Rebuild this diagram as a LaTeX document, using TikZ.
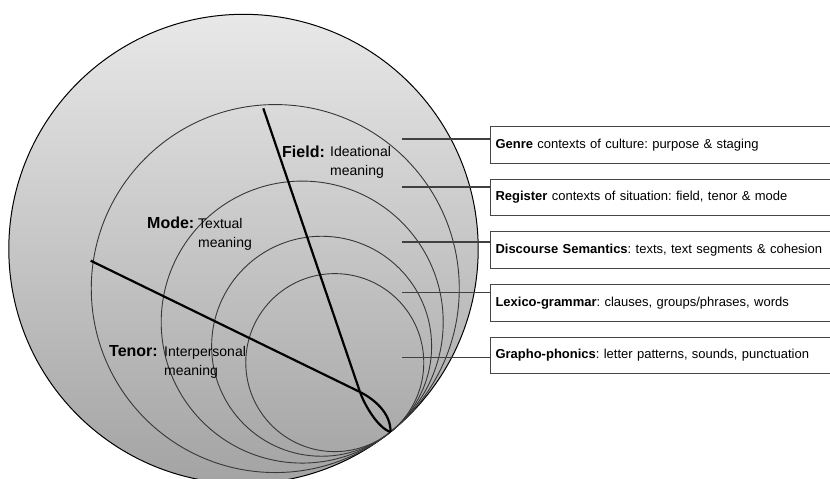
\documentclass[tikz,border=0pt]{standalone}
\usepackage{fontspec}
\setmainfont{Liberation Sans}
\frenchspacing
\usetikzlibrary{positioning,calc}
\definecolor{ringline}{RGB}{55,55,55}
\definecolor{boxline}{RGB}{70,70,70}
\tikzset{
  ring/.style={draw=ringline,line width=0.9pt},
  rolebar/.style={draw=black,line width=2.2pt},
  levelbox/.style={rectangle,draw=boxline,line width=1pt,fill=white,anchor=west,text width=360pt,inner xsep=5pt,minimum height=36.5pt,align=left,font=\fontsize{13}{15}\selectfont},
  leader/.style={draw=black!75,line width=1.1pt},
  rolelbl/.style={inner sep=0pt,anchor=base west,font=\fontsize{16}{19}\selectfont\bfseries},
  meantxt/.style={inner sep=0pt,anchor=north west,align=left,font=\fontsize{14}{19}\selectfont}
}

\begin{document}
\begin{tikzpicture}[x=1pt,y=-1pt]
  \useasboundingbox (0,0) rectangle (830,479);
  \clip (0,0) rectangle (830,479);

  % the strata: one big disc, smaller rings all touching it at T
  \coordinate (O) at (243.5,249);
  \coordinate (T) at (390.5,432);
  \shade[top color=gray!18,middle color=gray!35,bottom color=gray!72] (O) circle[radius=234.7pt];
  \draw[draw=black,line width=1pt] (O) circle[radius=234.7pt];
  \foreach \r in {184pt,141pt,110pt,89pt}
    \draw[ring] ($(T)!\r!(O)$) circle[radius=\r];

  % metafunction dividers
  \coordinate (fieldtop) at (263.3,108.3);
  \coordinate (tenorleft) at (90.7,260.7);
  \coordinate (cross) at (360,392);
  \draw[rolebar] (fieldtop) -- (cross) .. controls (364.5,405) and (378,428) .. (T);
  \draw[rolebar] (tenorleft) -- (cross) .. controls (374,399) and (391,413) .. (T);

  \node[rolelbl] (fieldlbl) at (282,157) {Field:};
  \node[meantxt] (fieldmean) at (330,146.5) {Ideational\\meaning};
  \node[rolelbl] (modelbl) at (147,228) {Mode:};
  \node[meantxt] (modemean) at (198,218) {Textual\\meaning};
  \node[rolelbl] (tenorlbl) at (109,356.5) {Tenor:};
  \node[meantxt] (tenormean) at (164,346.5) {Interpersonal\\meaning};

  % level boxes
  \node[levelbox] (genre) at (490,144.75) {\textbf{Genre} contexts of culture: purpose \& staging};
  \node[levelbox,below=15.2pt of genre] (register) {\textbf{Register} contexts of situation: field, tenor \& mode};
  \node[levelbox,below=15.2pt of register] (discourse) {\textbf{Discourse Semantics}: texts, text segments \& cohesion};
  \node[levelbox,below=15.2pt of discourse] (lexgram) {\textbf{Lexico-grammar}: clauses, groups/phrases, words};
  \node[levelbox,below=15.2pt of lexgram] (graph) {\textbf{Grapho-phonics}: letter patterns, sounds, punctuation};

  \coordinate (l1) at (402,139);
  \coordinate (l2) at (402,187);
  \coordinate (l3) at (402,242);
  \coordinate (l4) at (402,292.5);
  \coordinate (l5) at (402,357.5);
  \draw[leader] (l1) -- (l1 -| genre.west);
  \draw[leader] (l2) -- (l2 -| register.west);
  \draw[leader] (l3) -- (l3 -| discourse.west);
  \draw[leader] (l4) -- (l4 -| lexgram.west);
  \draw[leader] (l5) -- (l5 -| graph.west);
\end{tikzpicture}
\end{document}
